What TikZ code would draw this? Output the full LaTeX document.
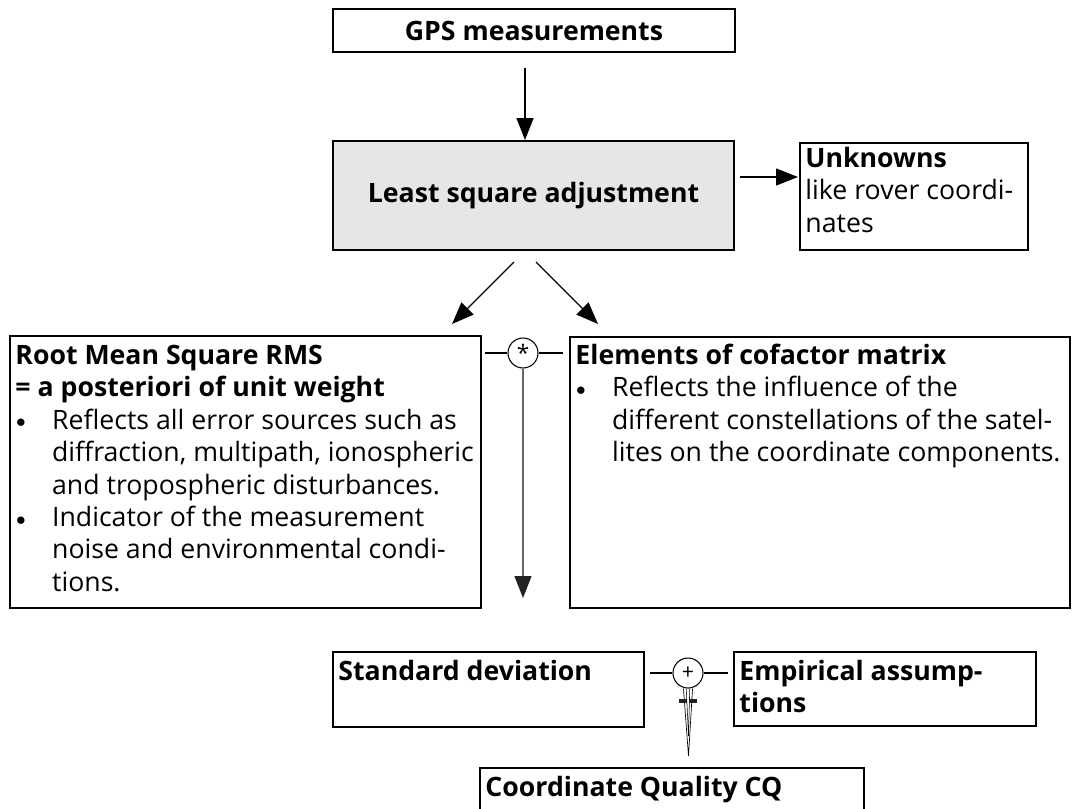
\documentclass[tikz,border=0pt]{standalone}
\usepackage{fontspec}
\setmainfont{Open Sans}
\usetikzlibrary{arrows.meta,fit}
\definecolor{boxgray}{HTML}{E6E6E6}
\definecolor{linegray}{HTML}{666666}
\definecolor{headgray}{HTML}{222222}
\newcommand{\bul}{\makebox[27.5pt][l]{\hspace{0.5pt}\raisebox{1pt}{\fontsize{15.5pt}{15.5pt}\selectfont$\bullet$}}}
\newcommand{\ind}{\makebox[27.5pt]{}}
\newcommand{\fst}{\rule{0pt}{16pt}}
\begin{document}
\begin{tikzpicture}[x=0.75pt,y=-0.75pt,
  box/.style={draw=black, line width=1.2pt, inner sep=0pt, fit={#1}},
  txt/.style={anchor=north west, inner sep=0pt, align=left, font=\fontsize{20pt}{24.3pt}\selectfont},
  ctxt/.style={anchor=center, inner sep=0pt, font=\fontsize{20pt}{24.3pt}\selectfont\bfseries},
  conn/.style={line width=1pt, -{Triangle[length=16.5pt,width=12.75pt]}},
  opc/.style={circle, draw=black, line width=0.8pt, inner sep=0pt, minimum size=22.5pt},
  stub/.style={line width=0.8pt},
]
\useasboundingbox (0,0) rectangle (1074,808);
% boxes
\node[box={(333,9) (735,52)}] (gps) {};
\node[ctxt] (gpst) at (gps.center) {GPS measurements};
\node[box={(333,141) (734,250)}, fill=boxgray] (ls) {};
\node[ctxt] (lst) at (ls.center) {Least square adjustment};
\node[box={(800,143) (1028,250)}] (unk) {};
\node[txt] (unkt) at ([xshift=4.5pt,yshift=-2.75pt]unk.north west) {\fst\textbf{Unknowns}\\like rover coordi-\\nates};
\node[box={(10,336) (481,608)}] (rms) {};
\node[txt] (rmst) at ([xshift=4.5pt,yshift=-5.75pt]rms.north west) {\fst\textbf{Root Mean Square RMS}\\
\textbf{= a posteriori of unit weight}\\
\bul Reflects all error sources such as\\
\ind diffraction, multipath, ionospheric\\
\ind and tropospheric disturbances.\\
\bul Indicator of the measurement\\
\ind noise and environmental condi-\\
\ind tions.};
\node[box={(570,337) (1070,608)}] (cof) {};
\node[txt] (coft) at ([xshift=4.5pt,yshift=-5pt]cof.north west) {\fst\textbf{Elements of cofactor matrix}\\
\bul Reflects the influence of the\\
\ind different constellations of the satel-\\
\ind lites on the coordinate components.};
\node[box={(333,652) (644,727)}] (sd) {};
\node[txt] (sdt) at ([xshift=4.5pt,yshift=-5.75pt]sd.north west) {\fst\textbf{Standard deviation}};
\node[box={(734,652) (1036,726)}] (emp) {};
\node[txt] (empt) at ([xshift=4.5pt,yshift=-5.75pt]emp.north west) {\fst\textbf{Empirical assump-}\\\textbf{tions}};
\node[box={(480,768) (864,815)}] (cq) {};
\node[txt] (cqt) at ([xshift=4.5pt,yshift=-5.75pt]cq.north west) {\fst\textbf{Coordinate Quality CQ}};
% operators
\node[opc, font=\fontsize{17pt}{17pt}\selectfont] (ast) at (523,353) {\raisebox{-4.5pt}{*}};
\node[opc, font=\fontsize{16pt}{16pt}\selectfont] (plus) at (688,673) {+};
\draw[stub] (ast.west) -- ++(-22,0);
\draw[stub] (ast.east) -- ++(24,0);
\draw[stub] (plus.west) -- ++(-22,0);
\draw[stub] (plus.east) -- ++(24,0);
% connectors
\coordinate (ra) at (740,177);
\coordinate (rb) at (798,177);
\coordinate (d1s) at (514,262);
\coordinate (d1e) at (452,324);
\coordinate (d2s) at (536,262);
\coordinate (d2e) at (598,324);
\coordinate (vend) at (523,598);
\coordinate (hend) at (688.5,756);
\draw[conn] (525,68) -- (525,140);
\draw[conn] (ra) -- (rb);
\draw[conn] (d1s) -- (d1e);
\draw[conn] (d2s) -- (d2e);
\draw[line width=1pt, draw=linegray, -{Triangle[length=16.5pt,width=12.75pt,color=headgray]}] (ast.south) -- (vend);
\draw[line width=0.5pt] ([xshift=-3.4pt]plus.south) -- (hend) -- ([xshift=3.4pt]plus.south);
\draw[line width=0.4pt] ([xshift=-1.3pt]plus.south) -- ([yshift=15pt]hend) -- ([xshift=1.3pt]plus.south);
\draw[line width=3pt, draw=headgray] ([xshift=-6.75pt,yshift=-9pt]plus.south) -- ([xshift=-1pt,yshift=-9pt]plus.south);
\draw[line width=3pt, draw=headgray] ([xshift=1pt,yshift=-9pt]plus.south) -- ([xshift=6.75pt,yshift=-9pt]plus.south);
\end{tikzpicture}
\end{document}
